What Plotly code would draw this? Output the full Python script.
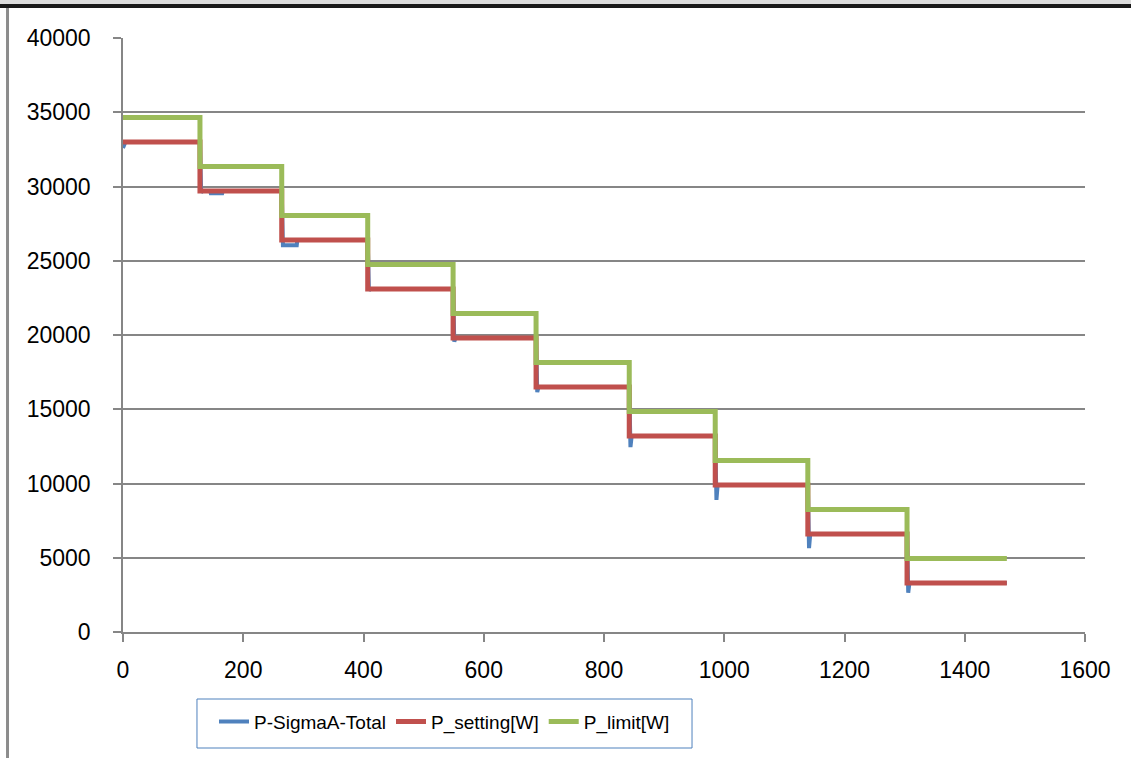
import plotly.graph_objects as go

# ---- data ----
step_times = [0, 128, 264, 407, 549, 687, 842, 985, 1139, 1304, 1470]
p_setting = [33000, 29700, 26400, 23100, 19800, 16500, 13200, 9900, 6600, 3300]
p_limit = [34650, 31350, 28050, 24750, 21450, 18150, 14850, 11550, 8250, 4950]

blue_t = [0, 4, 128, 130, 132, 145, 146, 165, 166,
          264, 266, 289, 290,
          407, 409, 411,
          549, 551, 553,
          687, 689, 691,
          842, 844, 846,
          985, 987, 989,
          1139, 1141, 1143,
          1304, 1306, 1308, 1470]
blue_p = [32600, 33000, 33000, 29600, 29700, 29700, 29550, 29550, 29700,
          29700, 26050, 26050, 26400,
          26400, 23000, 23100,
          23100, 19550, 19800,
          19800, 16150, 16500,
          16500, 12450, 13200,
          13200, 8900, 9900,
          9900, 5650, 6600,
          6600, 2650, 3300, 3300]

x_ticks = [0, 200, 400, 600, 800, 1000, 1200, 1400, 1600]
y_ticks = [0, 5000, 10000, 15000, 20000, 25000, 30000, 35000, 40000]

def step_xy(times, levels):
    xs, ys = [], []
    for i, v in enumerate(levels):
        xs += [times[i], times[i + 1]]
        ys += [v, v]
    return xs, ys

sx, sy = step_xy(step_times, p_setting)
lx, ly = step_xy(step_times, p_limit)

fig = go.Figure()
fig.add_trace(go.Scatter(x=blue_t, y=blue_p, mode="lines", name="P-SigmaA-Total",
                         line=dict(color="#4F81BD", width=4)))
fig.add_trace(go.Scatter(x=sx, y=sy, mode="lines", name="P_setting[W]",
                         line=dict(color="#C0504D", width=5)))
fig.add_trace(go.Scatter(x=lx, y=ly, mode="lines", name="P_limit[W]",
                         line=dict(color="#9BBB59", width=5)))

tick_font = dict(family="Liberation Sans, Arial, sans-serif", size=23, color="#000000")

fig.update_layout(
    width=1131, height=758,
    margin=dict(l=123, r=46, t=38, b=126),
    paper_bgcolor="white", plot_bgcolor="white",
    showlegend=True,
    legend=dict(orientation="h", x=0.3342, xanchor="center", y=-0.151, yanchor="middle",
                borderwidth=0, bgcolor="rgba(0,0,0,0)",
                font=dict(family="Liberation Sans, Arial, sans-serif",
                          size=19, color="#000000"),
                itemwidth=30),
    xaxis=dict(range=[0, 1600], tickvals=x_ticks, tickformat="d",
               showgrid=False, zeroline=False, showline=True, linecolor="#868686", linewidth=1.5,
               ticks="outside", ticklen=8, tickcolor="#868686", tickwidth=1.5,
               tickfont=tick_font, ticklabelstandoff=9, fixedrange=True),
    yaxis=dict(range=[0, 40000], tickvals=y_ticks, tickformat="d",
               showgrid=True, gridcolor="#868686", gridwidth=1.5, zeroline=False,
               showline=True, linecolor="#868686", linewidth=1.5,
               ticks="outside", ticklen=8, tickcolor="#868686", tickwidth=1.5,
               tickfont=tick_font, ticklabelstandoff=18, fixedrange=True),
    shapes=[
        # legend frame
        dict(type="rect", xref="paper", yref="paper", x0=0.0769, x1=0.5915, y0=-0.1953, y1=-0.1128,
             fillcolor="white", line=dict(color="#4F81BD", width=1), layer="below"),
        # outer frame pieces
        dict(type="rect", xref="paper", yref="paper", x0=-0.13, x1=1.05, y0=1.0572, y1=1.07,
             fillcolor="#DCDCDC", line=dict(width=0), layer="above"),
        dict(type="rect", xref="paper", yref="paper", x0=-0.13, x1=1.05, y0=1.0505, y1=1.0572,
             fillcolor="#1A1A1A", line=dict(width=0), layer="above"),
        dict(type="rect", xref="paper", yref="paper", x0=-0.1216, x1=-0.1185, y0=-0.22, y1=1.0505,
             fillcolor="#8C8C8C", line=dict(width=0), layer="above"),
    ],
)

fig.write_html("out.html")
